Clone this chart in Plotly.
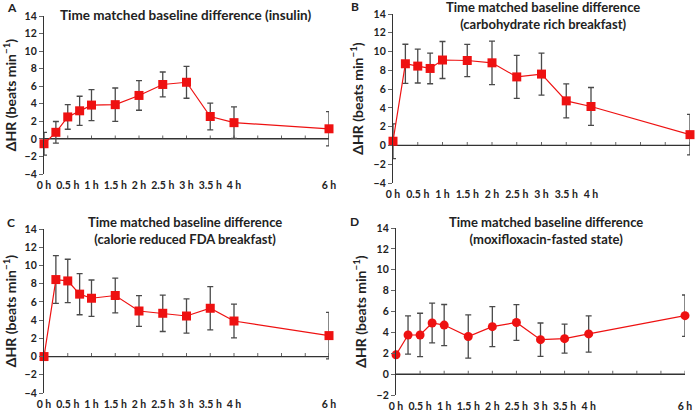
import plotly.graph_objects as go

W, H = 697, 411

times = [0, 0.25, 0.5, 0.75, 1, 1.5, 2, 2.5, 3, 3.5, 4, 6]
tick_vals = [0, 0.5, 1, 1.5, 2, 2.5, 3, 3.5, 4, 6]
tick_text = ["0 h", "0.5 h", "1 h", "1.5 h", "2 h", "2.5 h", "3 h", "3.5 h", "4 h", "6 h"]
zero_ticks = [0.5, 1, 1.5, 2, 2.5, 3, 3.5, 4, 4.5, 5, 5.5, 6]

a_mean = [-0.55, 0.75, 2.5, 3.2, 3.85, 3.9, 4.95, 6.2, 6.45, 2.55, 1.85, 1.15]
a_err = [1.3, 1.23, 1.4, 1.66, 1.76, 1.9, 1.69, 1.42, 1.82, 1.53, 1.8, 1.95]

b_mean = [0.45, 8.7, 8.45, 8.2, 9.1, 9.05, 8.8, 7.3, 7.6, 4.75, 4.15, 1.15]
b_err = [1.85, 2.08, 1.8, 1.63, 1.97, 1.72, 2.32, 2.29, 2.24, 1.81, 2.02, 2.16]

c_mean = [0, 8.45, 8.3, 6.85, 6.4, 6.7, 5.0, 4.75, 4.45, 5.3, 3.9, 2.3]
c_err = [0, 2.62, 2.38, 2.26, 2.0, 1.9, 1.69, 2.0, 1.87, 2.38, 1.85, 2.56]

d_mean = [1.85, 3.75, 3.75, 4.9, 4.7, 3.6, 4.55, 4.95, 3.3, 3.4, 3.85, 5.6]
d_err = [0, 1.83, 2.08, 1.9, 1.97, 2.07, 1.92, 1.71, 1.6, 1.39, 1.74, 1.98]

titles = [
    "Time matched baseline difference (insulin)",
    "Time matched baseline difference<br>(carbohydrate rich breakfast)",
    "Time matched baseline difference<br>(calorie reduced FDA breakfast)",
    "Time matched baseline difference<br>(moxifloxacin-fasted state)",
]
letters = ["A", "B", "C", "D"]
y_ranges = [(-4, 14), (-4, 14), (-4, 14), (-2, 14)]
x_range = [0, 6]
means = [a_mean, b_mean, c_mean, d_mean]
errs = [a_err, b_err, c_err, d_err]
symbols = ["square", "square", "square", "circle"]

# panel boxes in pixels: (x0, x1, ytop, ybottom)
boxes = [(44, 329, 16, 174), (393, 690, 14, 183), (44, 329, 229, 393), (396, 685, 228, 395)]
title_pos = [(185, 15), (543, 15.5), (185, 230), (546, 230)]
title_size = [13.5, 13, 13, 13]
letter_pos = [(12, 8), (355, 7), (11, 222), (355, 221)]
TICK_PX = 3.5
LINE_PX = 1.3

FONT = "Lato, 'Open Sans', sans-serif"
TXT = "#222222"
RED = "#ee1111"
AX = "#333333"

fig = go.Figure()
layout = dict(
    width=W, height=H, margin=dict(l=0, r=0, t=0, b=0, autoexpand=False),
    paper_bgcolor="white", plot_bgcolor="white", showlegend=False,
    font=dict(family=FONT, color=TXT),
)
annotations = []
shapes = []

for i in range(4):
    n = "" if i == 0 else str(i + 1)
    x0, x1, yt, yb = boxes[i]
    ylo, yhi = y_ranges[i]
    dom_x = [x0 / W, x1 / W]
    dom_y = [1 - yb / H, 1 - yt / H]
    upp = (yhi - ylo) / (yb - yt)

    # zero baseline (thin filled band) and upward tick marks every half hour
    shapes.append(dict(
        type="rect", xref="x" + n, yref="y" + n, layer="below",
        x0=x_range[0], x1=x_range[1],
        y0=-LINE_PX / 2 * upp, y1=LINE_PX / 2 * upp,
        fillcolor=AX, line=dict(width=0),
    ))
    for t in zero_ticks:
        shapes.append(dict(
            type="rect", xref="x" + n, yref="y" + n, layer="below",
            x0=t - 0.5 * (x_range[1] - x_range[0]) / (x1 - x0),
            x1=t + 0.5 * (x_range[1] - x_range[0]) / (x1 - x0),
            y0=0, y1=TICK_PX * upp,
            fillcolor="#666666", line=dict(width=0),
        ))

    fig.add_trace(go.Scatter(
        x=times, y=means[i], mode="lines+markers",
        xaxis="x" + n, yaxis="y" + n, cliponaxis=False,
        line=dict(color=RED, width=1.2),
        marker=dict(symbol=symbols[i], size=9, color=RED),
        error_y=dict(type="data", array=errs[i], visible=True,
                     color="#4a4a4a", thickness=1.3, width=3),
    ))

    layout["xaxis" + n] = dict(
        domain=dom_x, range=x_range, anchor="y" + n, automargin=False,
        tickvals=tick_vals, ticktext=tick_text, showline=False,
        showgrid=False, zeroline=False, ticks="", ticklabelstandoff=3,
        tickfont=dict(size=10.5, family=FONT, color=TXT, weight="bold"),
    )
    layout["yaxis" + n] = dict(
        domain=dom_y, range=[ylo, yhi], anchor="x" + n, automargin=False,
        dtick=2, showline=True, linecolor=AX, linewidth=1.2,
        ticks="outside", ticklen=4, tickcolor="#666666",
        showgrid=False, zeroline=True, zerolinecolor=AX, zerolinewidth=1.2,
        tickfont=dict(size=10.5, family=FONT, color=TXT, weight="bold"),
        title=dict(text="ΔHR (beats min<sup>−1</sup>)", standoff=6,
                   font=dict(size=14, family=FONT, color=TXT, weight="bold")),
    )
    tx, ty = title_pos[i]
    annotations.append(dict(
        text="<b>" + titles[i] + "</b>", x=tx / W, y=1 - ty / H,
        xref="paper", yref="paper", xanchor="center", yanchor="middle",
        showarrow=False, font=dict(size=title_size[i], family=FONT, color=TXT),
    ))
    lx, ly = letter_pos[i]
    annotations.append(dict(
        text="<b>" + letters[i] + "</b>", x=lx / W, y=1 - ly / H,
        xref="paper", yref="paper", xanchor="center", yanchor="middle",
        showarrow=False, font=dict(size=12, family=FONT, color=TXT),
    ))

layout["annotations"] = annotations
layout["shapes"] = shapes
fig.update_layout(**layout)
fig.write_html("out.html", config={"displayModeBar": False},
               post_script="document.body.style.margin='0';")
